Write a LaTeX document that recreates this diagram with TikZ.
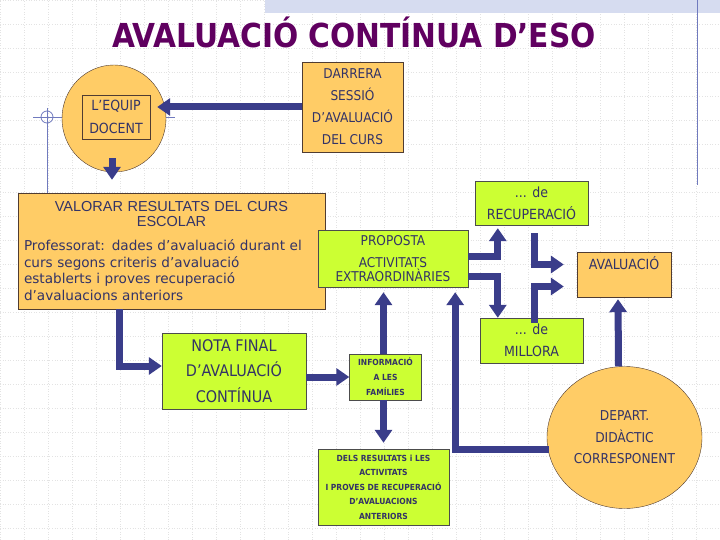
\documentclass[tikz,border=0pt]{standalone}
\usepackage{fontspec}
\setmainfont{DejaVu Sans}
\newfontfamily\condfont{DejaVu Sans Condensed}
\newfontfamily\arialfont{Liberation Sans}
\usepackage{tikz}
\usetikzlibrary{arrows.meta, shapes.geometric, calc}
\usepackage{xcolor}
\definecolor{txt}{RGB}{51,51,102}
\definecolor{ttl}{RGB}{96,0,96}
\definecolor{orng}{RGB}{255,204,102}
\definecolor{lime}{RGB}{204,255,51}
\definecolor{navy}{RGB}{58,61,138}
\definecolor{deco}{RGB}{112,122,190}
\definecolor{band}{RGB}{214,220,240}

\begin{document}
\begin{tikzpicture}[
    x=1pt, y=-1pt,
    every node/.style={text=txt, inner sep=0pt},
    obox/.style={draw={rgb,255:red,80;green,60;blue,50}, fill=orng, align=center},
    gbox/.style={draw=black!70, fill=lime, align=center},
    oval/.style={ellipse, draw={rgb,255:red,80;green,60;blue,50}, fill=orng, align=center},
    arr/.style={-{Triangle[width=17pt, length=13pt]}, line width=7pt, color=navy},
    gridline/.style={dotted, color=black!11, line width=0.6pt},
    decoline/.style={color=deco, line width=0.8pt},
]
    \useasboundingbox (0,0) rectangle (720,540);
    % background
    \fill[white] (0,0) rectangle (720,540);
    \draw[gridline, step=24pt] (0,0) grid (720,540);
    \fill[band] (265,0) rectangle (720,13);
    \draw[decoline] (697,0) -- (697,185);
    \draw[decoline] (33,117) -- (175,117);
    \draw[decoline] (47,108) -- (47,193);
    \draw[decoline] (47,117) circle (6pt);

    % title
    \node[text=ttl, font=\condfont\bfseries\fontsize{33}{36}\selectfont] (title) at (354,32) {AVALUACIÓ CONTÍNUA D’ESO};

    % top row
    \node[oval, minimum width=104pt, minimum height=107pt] (equip) at (114,118.5) {};
    \node[draw={rgb,255:red,80;green,60;blue,50}, minimum width=68pt, minimum height=44pt, align=center,
          font=\condfont\fontsize{14}{23}\selectfont] (docent) at (116,117) {L’EQUIP\\DOCENT};
    \node[obox, minimum width=101pt, minimum height=90pt, font=\condfont\fontsize{13.5}{22}\selectfont] (darrera) at (352.5,107)
        {DARRERA\\SESSIÓ\\D’AVALUACIÓ\\DEL CURS};

    % valorar
    \node[obox, minimum width=307pt, minimum height=116pt, text width=295pt, align=left,
          font=\fontsize{13.6}{16.7}\selectfont] (valorar) at (171.5,251)
        {{\centering\arialfont\fontsize{14.5}{15.5}\selectfont VALORAR RESULTATS DEL CURS\\ESCOLAR\par}\vspace{7pt}%
         Professorat: dades d’avaluació durant el\\curs segons criteris d’avaluació\\establerts i proves recuperació\\d’avaluacions anteriors};

    % proposta and outcomes
    \node[gbox, minimum width=150pt, minimum height=57pt, font=\condfont\fontsize{13.5}{14}\selectfont] (proposta) at (393,258.5)
        {PROPOSTA\\[8pt]ACTIVITATS\\EXTRAORDINÀRIES};
    \node[gbox, minimum width=113pt, minimum height=44pt, font=\condfont\fontsize{14}{22}\selectfont] (recup) at (531.5,203)
        {... de\\RECUPERACIÓ};
    \node[gbox, minimum width=103pt, minimum height=45pt, font=\condfont\fontsize{14}{22}\selectfont] (millora) at (531.5,340.5)
        {... de\\MILLORA};
    \node[obox, minimum width=94pt, minimum height=45pt, font=\condfont\fontsize{14}{22}\selectfont] (aval) at (624,274.5)
        {AVALUACIÓ\\\mbox{}};

    % bottom row
    \node[gbox, minimum width=144pt, minimum height=76pt, font=\condfont\fontsize{16}{25.5}\selectfont] (nota) at (234,371)
        {NOTA FINAL\\D’AVALUACIÓ\\CONTÍNUA};
    \node[gbox, minimum width=72pt, minimum height=46pt, font=\condfont\bfseries\fontsize{8.4}{15}\selectfont] (info) at (385.5,377)
        {INFORMACIÓ\\A LES\\FAMÍLIES};
    \node[gbox, minimum width=131pt, minimum height=76pt, font=\condfont\bfseries\fontsize{8.4}{14.5}\selectfont] (dels) at (383.5,487)
        {DELS RESULTATS i LES\\ACTIVITATS\\I PROVES DE RECUPERACIÓ\\D’AVALUACIONS\\ANTERIORS};
    \node[oval, minimum width=155pt, minimum height=142pt, font=\condfont\fontsize{13.6}{21.5}\selectfont] (depart) at (624.5,437.5)
        {DEPART.\\DIDÀCTIC\\CORRESPONENT};

    % arrows
    \draw[arr] (darrera.west) -- ($(docent.east |- darrera.west)+(7,0)$);
    \draw[arr] ($(equip.south)+(-2,-14)$) -- ($(equip.south |- valorar.north)+(-2,-13)$);
    \draw[arr] ($(valorar.south west)+(102,0)$) |- ($(nota.west)+(0,-5)$);
    \draw[arr] (nota.east |- info.west) -- (info.west);
    \draw[arr, shorten >=5pt] ([xshift=-2pt]info.north) -- ([xshift=-2pt]info.north |- proposta.south);
    \draw[arr, shorten >=6pt] ([xshift=-2pt]info.south) -- ([xshift=-2pt]info.south |- dels.north);
    \draw[arr, shorten >=5pt] ($(depart.west)+(2,12)$) -| ($(proposta.south east)+(-13,0)$);
    \draw[arr, shorten >=2pt] ([xshift=-6pt]depart.north) -- ([xshift=-6pt]aval.south);
    \draw[arr, shorten >=3pt] ($(proposta.east)+(0,-2)$) -| ($(recup.south west)+(23,0)$);
    \draw[arr] ($(proposta.south east)+(0,-11)$) -| ($(millora.north west)+(18,0)$);
    \draw[arr] ($(recup.south)+(3,8)$) |- ($(aval.west)+(-13,-10)$);
    \draw[arr] ($(millora.north)+(3,5)$) |- ($(aval.west)+(-13,12)$);
\end{tikzpicture}
\end{document}
